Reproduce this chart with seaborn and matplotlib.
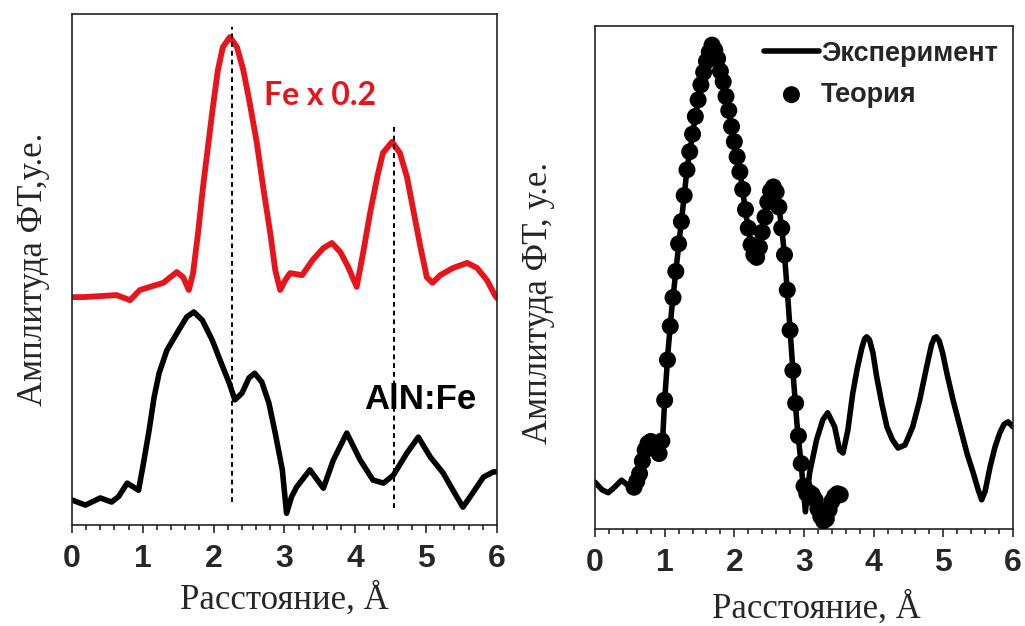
import matplotlib
matplotlib.use('Agg')
import pandas as pd
import matplotlib.pyplot as plt
import seaborn as sns
from matplotlib.ticker import MultipleLocator

# left panel: Fe (scaled x0.2) and AlN:Fe, amplitude in arbitrary units
r_fe = [0.0, 0.16, 0.40, 0.63, 0.82, 0.96, 1.10, 1.29, 1.48, 1.57, 1.65, 1.71, 1.78, 1.85, 1.92,
        1.99, 2.06, 2.13, 2.23, 2.33, 2.42, 2.51, 2.61, 2.70, 2.80, 2.87, 2.94, 3.01, 3.08,
        3.25, 3.40, 3.55, 3.67, 3.79, 3.90, 4.02, 4.11, 4.21, 4.31, 4.39, 4.52, 4.63, 4.73,
        4.82, 4.92, 5.01, 5.09, 5.20, 5.38, 5.58, 5.72, 5.86, 5.97, 6.00]
a_fe = [44.6, 44.6, 44.8, 45.0, 44.0, 46.0, 46.6, 47.4, 49.5, 48.5, 46.0, 49.3, 57.1, 66.1, 74.0,
        81.8, 89.0, 93.5, 95.5, 93.5, 89.0, 82.6, 74.8, 66.1, 57.1, 49.9, 46.0, 47.9, 49.3,
        48.9, 51.9, 54.2, 55.2, 53.4, 50.5, 46.6, 53.2, 61.1, 68.1, 72.8, 75.0, 72.8, 68.1,
        61.6, 54.4, 48.5, 47.4, 48.9, 50.3, 51.3, 50.3, 47.9, 45.0, 44.4]

r_aln = [0.0, 0.19, 0.40, 0.56, 0.66, 0.78, 0.94, 1.01, 1.09, 1.16, 1.23, 1.34, 1.51, 1.62, 1.72,
         1.84, 1.98, 2.09, 2.22, 2.30, 2.40, 2.50, 2.58, 2.68, 2.78, 2.87, 2.97, 3.03, 3.10,
         3.17, 3.36, 3.55, 3.69, 3.88, 4.07, 4.25, 4.40, 4.54, 4.73, 4.89, 5.06, 5.24, 5.38,
         5.52, 5.66, 5.81, 5.95, 6.00]
a_aln = [4.9, 3.9, 5.3, 4.5, 5.6, 8.2, 6.8, 12.1, 18.6, 25.0, 29.7, 34.2, 38.2, 40.7, 41.7,
         40.1, 36.2, 32.3, 27.8, 24.5, 25.8, 28.8, 29.7, 28.0, 23.9, 18.0, 10.8, 2.3, 5.5,
         7.4, 10.8, 7.2, 12.7, 18.0, 12.7, 8.8, 8.2, 9.8, 14.1, 17.2, 13.3, 10.2, 6.8,
         3.5, 6.3, 9.4, 10.4, 10.4]

guide_r = [2.26, 4.54]
guide_top = [97.5, 78.7]
guide_bottom = [4.5, 3.3]

# right panel: experiment vs theory
r_exp = [0.00, 0.10, 0.19, 0.28, 0.38, 0.47, 0.57, 0.65, 0.72, 0.78, 0.84, 0.90, 0.94, 0.97,
         1.00, 1.05, 1.10, 1.17, 1.25, 1.32, 1.42, 1.51, 1.58, 1.65, 1.69, 1.74, 1.84, 1.91,
         1.97, 2.05, 2.11, 2.16, 2.20, 2.25, 2.31, 2.37, 2.44, 2.50, 2.56, 2.62, 2.68, 2.72,
         2.77, 2.81, 2.85, 2.90, 2.96, 3.02, 3.08, 3.18, 3.27, 3.34, 3.44, 3.51, 3.56, 3.63,
         3.70, 3.76, 3.83, 3.87, 3.90, 3.94, 3.99, 4.04, 4.12, 4.19, 4.27, 4.35, 4.45, 4.56,
         4.66, 4.76, 4.83, 4.87, 4.90, 4.94, 4.99, 5.05, 5.14, 5.24, 5.34, 5.43, 5.50, 5.55,
         5.60, 5.67, 5.74, 5.81, 5.87, 5.93, 6.00]
a_exp = [9.3, 7.8, 7.2, 8.3, 9.7, 8.7, 8.3, 11.7, 15.7, 17.1, 17.1, 15.7, 15.3, 17.7,
         25.6, 35.6, 43.5, 52.5, 62.4, 71.4, 80.3, 87.7, 92.0, 95.2, 96.4, 94.2, 88.9, 83.9,
         79.3, 73.4, 68.4, 63.0, 59.8, 55.9, 53.9, 56.5, 62.0, 66.4, 68.0, 66.0, 59.8, 54.5,
         45.5, 37.6, 29.6, 20.7, 12.7, 3.4, 11.1, 17.7, 21.7, 23.1, 20.3, 15.7, 15.1, 19.7,
         27.0, 31.6, 36.0, 37.8, 38.2, 37.6, 35.0, 30.5, 24.7, 20.3, 17.7, 16.1, 16.7, 20.3,
         25.6, 32.2, 36.6, 38.0, 38.2, 37.4, 35.0, 31.0, 25.6, 20.3, 15.0, 11.1, 7.8, 5.8,
         7.5, 12.3, 16.2, 19.1, 20.8, 21.3, 20.3]

r_theory = [0.56, 0.60, 0.64, 0.68, 0.72, 0.76, 0.80, 0.84, 0.88, 0.92, 0.96, 1.00, 1.04, 1.08,
            1.12, 1.16, 1.20, 1.24, 1.28, 1.32, 1.36, 1.40, 1.44, 1.48, 1.52, 1.56, 1.60, 1.64,
            1.68, 1.72, 1.76, 1.80, 1.84, 1.88, 1.92, 1.96, 2.00, 2.04, 2.08, 2.12, 2.16, 2.20,
            2.24, 2.28, 2.32, 2.36, 2.40, 2.44, 2.48, 2.52, 2.56, 2.60, 2.64, 2.68, 2.72, 2.76,
            2.80, 2.84, 2.88, 2.92, 2.96, 3.00, 3.04, 3.08, 3.12, 3.16, 3.20, 3.24, 3.28, 3.32,
            3.36, 3.40, 3.44, 3.48, 3.52]
a_theory = [8.3, 9.5, 11.0, 13.5, 15.7, 17.0, 17.4, 17.0, 16.2, 15.0, 17.5, 25.6, 33.6, 40.3,
            46.0, 51.2, 56.7, 61.1, 66.3, 71.4, 75.0, 78.5, 82.0, 85.3, 88.3, 90.8, 93.0, 94.8,
            96.2, 95.2, 93.5, 91.0, 88.9, 86.0, 83.2, 80.0, 77.0, 74.0, 71.0, 67.5, 63.5, 59.8,
            56.5, 54.5, 54.0, 56.0, 59.0, 62.0, 65.0, 67.2, 68.0, 67.0, 64.0, 59.8, 54.5, 47.5,
            39.5, 31.5, 25.0, 18.5, 13.0, 8.5, 7.0, 7.2, 6.8, 5.8, 4.0, 2.5, 1.6, 2.0,
            3.8, 5.5, 6.5, 7.0, 6.8]

sns.set_style('white')
plt.rcParams['font.family'] = ['Liberation Sans', 'DejaVu Sans']
plt.rcParams['lines.solid_capstyle'] = 'round'
plt.rcParams['lines.solid_joinstyle'] = 'round'

fig = plt.figure(figsize=(10.25, 6.26), dpi=100)
ax1 = fig.add_axes([0.0702, 0.1613, 0.4146, 0.8163])
ax2 = fig.add_axes([0.5805, 0.155, 0.4078, 0.8035])

left = pd.DataFrame({'r': r_fe, 'a': a_fe})
sns.lineplot(data=left, x='r', y='a', ax=ax1, color='#e8141c', lw=4.2, estimator=None)
sns.lineplot(x=r_aln, y=a_aln, ax=ax1, color='black', lw=4.0, estimator=None)
for xr, top, bot in zip(guide_r, guide_top, guide_bottom):
    ax1.plot([xr, xr], [bot, top], color='black', lw=1.4, ls=(0, (2.5, 2)))
ax1.text(3.50, 84.1, 'Fe x 0.2', color='#e8141c', fontsize=23, fontweight='bold',
         family=['Lato', 'DejaVu Sans'], ha='center', va='center')
ax1.text(4.92, 24.5, 'AlN:Fe', color='black', fontsize=25, fontweight='bold',
         ha='center', va='center')

sns.lineplot(x=r_exp, y=a_exp, ax=ax2, color='black', lw=4.0, estimator=None,
             label='Эксперимент')
sns.scatterplot(x=r_theory, y=a_theory, ax=ax2, color='black', s=150, edgecolor='none',
                label='Теория', zorder=3)
ax2.legend(loc='upper right', frameon=False, prop={'weight': 'bold', 'size': 19.5},
           handlelength=2.0, handletextpad=0.1, borderaxespad=0.15, labelspacing=0.55,
           markerscale=1.0)

for ax in (ax1, ax2):
    ax.set_xlim(0, 6)
    ax.set_ylim(0, 100)
    ax.set_yticks([])
    ax.xaxis.set_major_locator(MultipleLocator(1))
    ax.xaxis.set_minor_locator(MultipleLocator(0.2))
    ax.tick_params(axis='x', which='major', direction='out', length=6, width=1.2,
                   bottom=True, labelsize=23, pad=8)
    ax.tick_params(axis='x', which='minor', direction='out', length=3.5, width=1.2,
                   bottom=True)
    for lab in ax.get_xticklabels():
        lab.set_fontweight('bold')
    for sp in ax.spines.values():
        sp.set_visible(True)
        sp.set_color('#222222')
        sp.set_linewidth(1.2)

ax1.set_xlabel('Расстояние, Å', fontsize=25, family=['Liberation Serif', 'DejaVu Serif'],
               labelpad=6)
ax1.set_ylabel('Амплитуда ФТ,у.е.', fontsize=25, family=['Liberation Serif', 'DejaVu Serif'],
               labelpad=16)
ax2.set_xlabel('Расстояние, Å', fontsize=25, family=['Liberation Serif', 'DejaVu Serif'],
               labelpad=0)
ax2.set_ylabel('Амплитуда ФТ, у.е.', fontsize=25, family=['Liberation Serif', 'DejaVu Serif'],
               labelpad=14)
ax2.yaxis.set_label_coords(-0.095, 0.45)
ax2.xaxis.set_label_coords(0.53, -0.125)

fig.savefig('out.png', dpi=100)
